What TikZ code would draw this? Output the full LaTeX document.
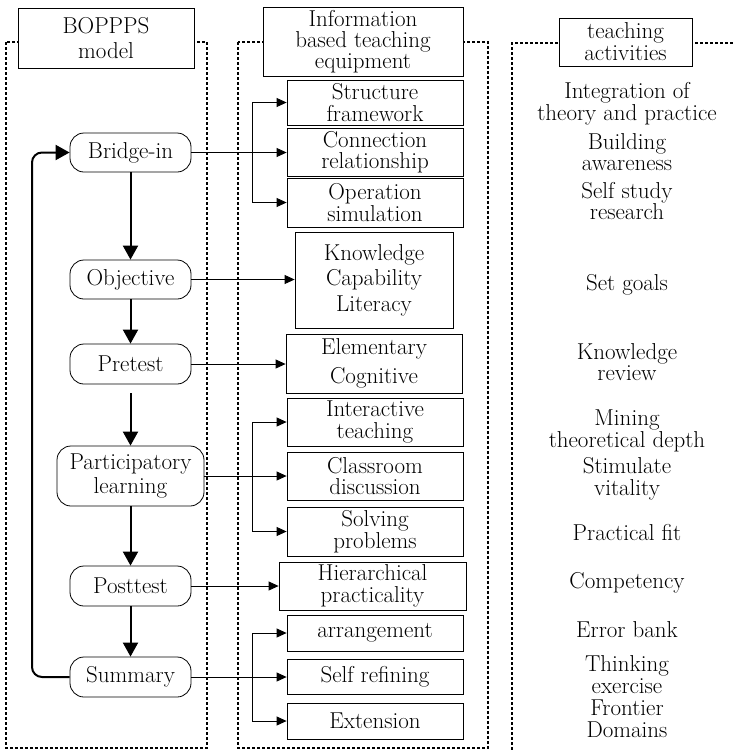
\documentclass[tikz,border=0pt]{standalone}
\usetikzlibrary{arrows.meta}
\begin{document}
\begin{tikzpicture}[x=1pt,y=-1pt,
 txt/.style={font=\fontsize{23}{21.5}\selectfont, align=center, inner sep=0pt, text=black},
 hdr/.style={draw, line width=1pt, fill=white, txt},
 mbox/.style={draw, line width=0.8pt, txt},
 rnode/.style={draw, line width=0.8pt, rounded corners=14pt, txt},
 frame/.style={line width=1.6pt, dash pattern=on 3pt off 2pt},
 varrow/.style={line width=2pt, -{Triangle[length=14pt,width=15pt]}},
 harrow/.style={line width=0.8pt, -{Triangle[length=10pt,width=9pt]}},
]
\useasboundingbox (0,0) rectangle (733,750);
% dashed frames
\draw[frame] (6,42) rectangle (207,748);
\draw[frame] (238,42) rectangle (488,748);
\draw[frame] (733,43) -- (512,43) -- (512,750);
% headers
\node[hdr, minimum width=176pt, minimum height=60pt, font=\fontsize{23}{25}\selectfont] (h1) at (106,38) {BOPPPS\\model};
\node[hdr, minimum width=200pt, minimum height=69pt, font=\fontsize{23}{21}\selectfont] (h2) at (363,41.5) {Information\\based teaching\\equipment};
\node[hdr, minimum width=133pt, minimum height=48pt, font=\fontsize{23}{22}\selectfont] (h3) at (625.5,42) {teaching\\activities};
% left column
\node[rnode, minimum width=121pt, minimum height=39pt] (bi) at (130.5,152.5) {Bridge-in};
\node[rnode, minimum width=121pt, minimum height=39pt] (ob) at (130.5,279.5) {Objective};
\node[rnode, minimum width=121pt, minimum height=40pt] (pr) at (130.5,364) {Pretest};
\node[rnode, minimum width=147pt, minimum height=60pt, font=\fontsize{23}{24}\selectfont] (pl) at (130.5,476) {Participatory\\learning};
\node[rnode, minimum width=121pt, minimum height=40pt] (po) at (130.5,586) {Posttest};
\node[rnode, minimum width=121pt, minimum height=40pt] (sm) at (130.5,677) {Summary};
% middle column
\node[mbox, minimum width=176pt, minimum height=45pt] (sf) at (375,102.5) {Structure\\framework};
\node[mbox, minimum width=176pt, minimum height=48pt] (cr) at (375,152) {Connection\\relationship};
\node[mbox, minimum width=176pt, minimum height=49pt] (os) at (375,202.5) {Operation\\simulation};
\node[mbox, minimum width=158pt, minimum height=96pt, font=\fontsize{23}{25.5}\selectfont] (kc) at (374,280) {Knowledge\\Capability\\Literacy};
\node[mbox, minimum width=176pt, minimum height=59pt, font=\fontsize{23}{29}\selectfont] (ec) at (374,363.5) {Elementary\\Cognitive};
\node[mbox, minimum width=176pt, minimum height=48pt] (it) at (375,422) {Interactive\\teaching};
\node[mbox, minimum width=176pt, minimum height=48pt] (cd) at (375,476) {Classroom\\discussion};
\node[mbox, minimum width=176pt, minimum height=49pt] (sp) at (375,531.5) {Solving\\problems};
\node[mbox, minimum width=187pt, minimum height=48pt] (hp) at (372.5,586) {Hierarchical\\practicality};
\node[mbox, minimum width=176pt, minimum height=36pt] (ar) at (375,633) {arrangement};
\node[mbox, minimum width=176pt, minimum height=35pt] (sr) at (375,676.5) {Self refining};
\node[mbox, minimum width=176pt, minimum height=36pt] (ex) at (375,721) {Extension};
% right column
\node[txt] (t1) at (627,104) {Integration of\\theory and practice};
\node[txt] (t2) at (627,152) {Building\\awareness};
\node[txt] (t3) at (627,201) {Self study\\research};
\node[txt] (t4) at (627,285) {Set goals};
\node[txt] (t5) at (627,362) {Knowledge\\review};
\node[txt] (t6) at (627,431) {Mining\\theoretical depth};
\node[txt] (t7) at (627,479) {Stimulate\\vitality};
\node[txt] (t8) at (627,533) {Practical fit};
\node[txt] (t9) at (627,583) {Competency};
\node[txt] (t10) at (627,630) {Error bank};
\node[txt, font=\fontsize{23}{22}\selectfont] (t11) at (627,697) {Thinking\\exercise\\Frontier\\Domains};
% vertical arrows
\draw[varrow] (bi.south) -- (ob.north);
\draw[varrow] (ob.south) -- (pr.north);
\draw[varrow, shorten <=9pt] (pr.south) -- (pl.north);
\draw[varrow] (pl.south) -- (po.north);
\draw[varrow] (po.south) -- (sm.north);
% feedback loop
\coordinate (lp) at (32,152.5);
\draw[varrow, rounded corners=10pt] (sm.west) -| (lp) -- (bi.west);
% horizontal arrows
\coordinate (b1) at (252,152.5);
\coordinate (b2) at (252,476);
\coordinate (b3) at (252,677);
\draw[harrow] (bi.east) -- (bi.east -| cr.west);
\draw[harrow] (b1) |- (sf.west);
\draw[harrow] (b1) |- (os.west);
\draw[harrow] (ob.east) -- (ob.east -| kc.west);
\draw[harrow] (pr.east) -- (pr.east -| ec.west);
\draw[harrow] (pl.east) -- (pl.east -| cd.west);
\draw[harrow] (b2) |- (it.west);
\draw[harrow] (b2) |- (sp.west);
\draw[harrow] (po.east) -- (po.east -| hp.west);
\draw[harrow] (sm.east) -- (sm.east -| sr.west);
\draw[harrow] (b3) |- (ar.west);
\draw[harrow] (b3) |- (ex.west);
\end{tikzpicture}
\end{document}
